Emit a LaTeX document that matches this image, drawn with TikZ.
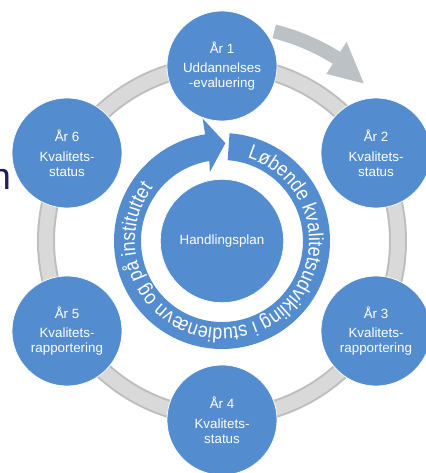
\documentclass[tikz,border=0pt]{standalone}
\usepackage{fontspec}
\setmainfont{Liberation Sans}
\newfontfamily\ringfamily[FakeStretch=0.87]{Liberation Sans}
\usetikzlibrary{calc,decorations.text}
\definecolor{yearblue}{RGB}{84,141,207}
\definecolor{ringgrey}{RGB}{217,217,217}
\definecolor{ringedge}{RGB}{190,190,190}
\definecolor{arrowgrey}{RGB}{188,193,198}
\definecolor{titlenavy}{RGB}{35,30,90}
\newcommand{\ringfont}{\ringfamily\fontsize{17.5}{17.5}\selectfont\color{white}}
\tikzset{
        year/.style={circle, fill=yearblue, draw=white, line width=0.6pt,
                minimum size=3.3cm, inner sep=0pt, text=white, align=center,
                font=\fontsize{11.4}{12.8}\selectfont},
        hub/.style={year, minimum size=3.7cm},
}
\begin{document}
\begin{tikzpicture}[x=0.03cm, y=0.03cm]
        \clip (0,0) rectangle (426,473);
        \coordinate (c) at (222,232);
        % grey ring behind the years
        \draw[ringedge, line width=0.54cm] (c) circle (176);
        \draw[ringgrey, line width=0.42cm] (c) circle (176);
        % grey arrow, top right
        \fill[arrowgrey] ($(c)+(76:223)$) arc[start angle=76, end angle=58, radius=223]
                -- ($(c)+(58:235)$) -- ($(c)+(48:212)$) -- ($(c)+(58:197)$)
                -- ($(c)+(58:209)$) arc[start angle=58, end angle=76, radius=209] -- cycle;
        \node (n) [anchor=base east, text=titlenavy, font=\fontsize{32}{32}\selectfont] at (15,283) {n};
        \node (y1) [year] at (222,407) {År 1\\[4pt]Uddannelses\\-evaluering};
        \node (y2) [year] at (376,320) {År 2\\[4pt]Kvalitets-\\status};
        \node (y3) [year] at (376,142) {År 3\\[4pt]Kvalitets-\\rapportering};
        \node (y4) [year] at (222,53) {År 4\\[4pt]Kvalitets-\\status};
        \node (y5) [year] at (67,142) {År 5\\[4pt]Kvalitets-\\rapportering};
        \node (y6) [year] at (67,320) {År 6\\[4pt]Kvalitets-\\status};
        % circular arrow round the plan
        \fill[yearblue] ($(c)+(86:108)$) arc[start angle=86, end angle=-261, radius=108]
                -- ($(c)+(99:124)$) -- ($(c)+(88:98)$) -- ($(c)+(100:70)$)
                -- ($(c)+(99:81)$) arc[start angle=-261, end angle=86, radius=81] -- cycle;
        \path[decorate, decoration={text along path, text align={left indent=0pt},
                text={|\ringfont|Løbende kvalitetsudvikling i studienævn og på instituttet}}]
                ($(c)+(73:87)$) arc[start angle=73, end angle=-250, radius=87];
        \node (plan) [hub] at (c) {Handlingsplan};
\end{tikzpicture}
\end{document}
